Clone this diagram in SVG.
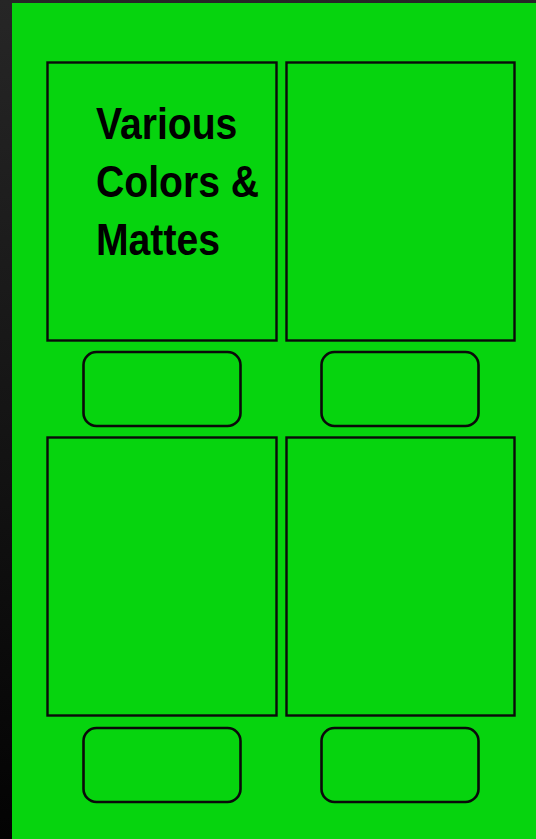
<svg xmlns="http://www.w3.org/2000/svg" width="536" height="839" viewBox="0 0 536 839">
<defs>
<linearGradient id="side" x1="0" y1="0" x2="0" y2="1">
<stop offset="0" stop-color="#262626"/>
<stop offset="1" stop-color="#030303"/>
</linearGradient>
<style>
.panel{fill:none;stroke:#0a0a0a;stroke-width:2.4}
.pill{fill:none;stroke:#0a0a0a;stroke-width:2.6}
.t{font-family:"Liberation Sans",Arial,sans-serif;font-weight:bold;font-size:45px;fill:#000}
</style>
</defs>
<rect x="0" y="0" width="536" height="839" fill="url(#side)"/>
<rect x="12" y="3" width="524" height="836" fill="#06d40e"/>
<g id="panel-top-left">
<rect class="panel" x="47.5" y="62.5" width="229" height="278"/>
<text class="t" transform="translate(96,0) scale(0.87,1)"><tspan x="0" y="139">Various</tspan><tspan x="0" y="197">Colors &amp;</tspan><tspan x="0" y="255">Mattes</tspan></text>
</g>
<g id="panel-top-right"><rect class="panel" x="286.5" y="62.5" width="228" height="278"/></g>
<g id="pill-top-left"><rect class="pill" x="83.5" y="352" width="157" height="74" rx="13"/></g>
<g id="pill-top-right"><rect class="pill" x="321.5" y="352" width="157" height="74" rx="13"/></g>
<g id="panel-bottom-left"><rect class="panel" x="47.5" y="437.5" width="229" height="278"/></g>
<g id="panel-bottom-right"><rect class="panel" x="286.5" y="437.5" width="228" height="278"/></g>
<g id="pill-bottom-left"><rect class="pill" x="83.5" y="728" width="157" height="74" rx="13"/></g>
<g id="pill-bottom-right"><rect class="pill" x="321.5" y="728" width="157" height="74" rx="13"/></g>
<g id="connectors"></g>
</svg>
